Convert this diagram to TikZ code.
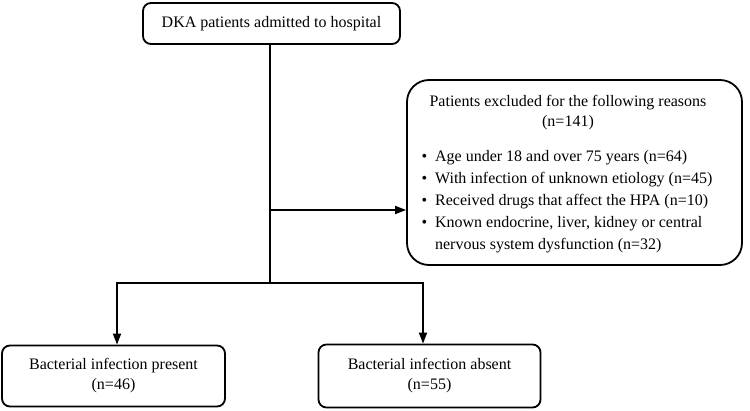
\documentclass[tikz,border=0pt]{standalone}
\usepackage{fontspec}
\setmainfont{Liberation Serif}
\usetikzlibrary{arrows.meta}
\begin{document}
\begin{tikzpicture}[x=1pt,y=-1pt,
  box/.style={draw,line width=1.8pt,rounded corners=8pt,inner sep=0pt,align=center,font=\fontsize{16}{20}\selectfont},
  ln/.style={line width=1.8pt},
  arr/.style={ln,-{Triangle[length=11pt,width=8pt]}}]
\useasboundingbox (0,0) rectangle (750,411);
\node[box,minimum width=257pt,minimum height=41pt] (top) at (271.5,23.5) {DKA patients admitted to hospital};
\node[box,rounded corners=22pt,minimum width=335pt,minimum height=185pt] (exc) at (574.5,172.5) {};
\node[font=\fontsize{16}{20}\selectfont,align=center] (h) at (568,113) {Patients excluded for the following reasons\\(n=141)};
\node[font=\fontsize{16}{22}\selectfont,align=left,anchor=north west] (lst) at (418,147) {%
\textbullet\enspace Age under 18 and over 75 years (n=64)\\
\textbullet\enspace With infection of unknown etiology (n=45)\\
\textbullet\enspace Received drugs that affect the HPA (n=10)\\
\textbullet\enspace Known endocrine, liver, kidney or central\\
\phantom{\textbullet\enspace}nervous system dysfunction (n=32)};
\node[box,minimum width=223pt,minimum height=61pt] (bl) at (113.5,376) {Bacterial infection present\\(n=46)};
\node[box,minimum width=222pt,minimum height=63pt] (br) at (429.5,376) {Bacterial infection absent\\(n=55)};
\coordinate (j) at (270,283);
\coordinate (m) at (270,210);
\draw[ln] (top.south -| j) -- (j);
\draw[arr] (m) -- (exc.west |- m);
\draw[arr] (j) -| (bl.north -| 117,0);
\draw[arr] (j) -| (br.north -| 423,0);
\end{tikzpicture}
\end{document}
